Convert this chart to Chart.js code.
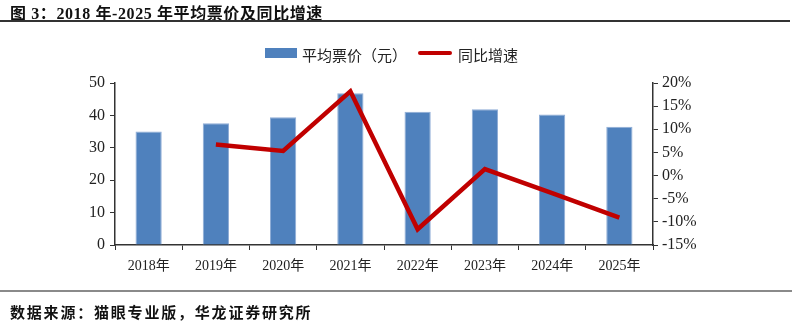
<!DOCTYPE html>
<html>
<head>
<meta charset="utf-8">
<script src="https://cdn.jsdelivr.net/npm/chart.js@4"></script>
<style>
    body { margin: 0; background: #fff; }
    #wrap { position: relative; width: 792px; height: 327px; overflow: hidden; }
    #title { position: absolute; left: 10px; top: 0px; font: bold 16px 'Liberation Serif', 'Noto Sans CJK SC', serif; color: #111; letter-spacing: 0.6px; }
    #rule-top { position: absolute; left: 0; top: 20px; width: 790px; height: 2px; background: #333; }
    #rule-bottom { position: absolute; left: 0; top: 290px; width: 792px; height: 2px; background: #8a8a8a; }
    #source { position: absolute; left: 10px; top: 301px; font: bold 15px 'Noto Sans CJK SC', sans-serif; color: #111; letter-spacing: 1.8px; }
    .legend { position: absolute; top: 44px; font: 15px 'Noto Sans CJK SC', sans-serif; color: #222; }
    #box-bar { position: absolute; left: 265px; top: 48px; width: 32px; height: 10px; background: #4F81BD; }
    #box-line { position: absolute; left: 418px; top: 51px; width: 34px; height: 4px; background: #C00000; border-radius: 2px; }
    #chart-box { position: absolute; left: 0; top: 0; width: 792px; height: 327px; }
</style>
</head>
<body>
<div id="wrap">
    <div id="chart-box"><canvas id="myChart"></canvas></div>
    <div id="title">图 3：2018 年-2025 年平均票价及同比增速</div>
    <div id="rule-top"></div>
    <div id="box-bar"></div>
    <div class="legend" style="left:302px">平均票价（元）</div>
    <div id="box-line"></div>
    <div class="legend" style="left:458px">同比增速</div>
    <div id="rule-bottom"></div>
    <div id="source">数据来源：猫眼专业版，华龙证券研究所</div>
</div>
<script>
var years = ['2018年', '2019年', '2020年', '2021年', '2022年', '2023年', '2024年', '2025年'];
var avgPrice = [35.0, 37.6, 39.4, 46.8, 41.1, 41.9, 40.3, 36.5];   // 元
var yoyGrowth = [null, 6.7, 5.3, 18.2, -11.6, 1.4, -3.8, -9.1];     // %

var axisColor = '#333';
var serif = "'Liberation Serif', 'Noto Sans CJK SC', serif";

Chart.defaults.font.family = serif;
Chart.defaults.font.size = 14;
Chart.defaults.color = '#222';

var ctx = document.getElementById('myChart').getContext('2d');

var chart = new Chart(ctx, {
    type: 'bar',
    data: {
        labels: years,
        datasets: [
            {
                type: 'line',
                label: '同比增速',
                data: yoyGrowth,
                yAxisID: 'y1',
                borderColor: '#C00000',
                borderWidth: 4.5,
                pointRadius: 0,
                tension: 0,
                spanGaps: false,
                order: 0,
            },
            {
                label: '平均票价（元）',
                data: avgPrice,
                yAxisID: 'y',
                backgroundColor: '#4F81BD',
                borderColor: '#8FADD6',
                borderWidth: 1,
                barPercentage: 0.39,
                categoryPercentage: 1,
                order: 1,
            },
        ],
    },
    options: {
        responsive: true,
        maintainAspectRatio: false,
        animation: false,
        layout: {
            padding: { top: 83, right: 0, bottom: 0, left: 0 },
        },
        plugins: {
            legend: { display: false },
            tooltip: { enabled: false },
        },
        scales: {
            x: {
                offset: true,
                grid: {
                    offset: true,
                    drawOnChartArea: false,
                    drawTicks: true,
                    tickLength: 5,
                    color: axisColor,
                },
                border: { color: axisColor, width: 1.5 },
                ticks: { padding: 8, maxRotation: 0 },
                afterFit: function (scale) { scale.width; scale.height = 82; },
            },
            y: {
                position: 'left',
                min: 0,
                max: 50,
                ticks: { stepSize: 10, padding: 5, font: { size: 16 } },
                grid: {
                    drawOnChartArea: false,
                    tickLength: 5,
                    color: axisColor,
                },
                border: { color: axisColor, width: 1.5 },
                afterFit: function (scale) { scale.width = 115; },
            },
            y1: {
                position: 'right',
                min: -15,
                max: 20,
                ticks: {
                    stepSize: 5,
                    padding: 4,
                    font: { size: 16 },
                    callback: function (v) { return v + '%'; },
                },
                grid: {
                    drawOnChartArea: false,
                    tickLength: 5,
                    color: axisColor,
                },
                border: { color: axisColor, width: 1.5 },
                afterFit: function (scale) { scale.width = 139; },
            },
        },
    },
});
</script>
</body>
</html>
